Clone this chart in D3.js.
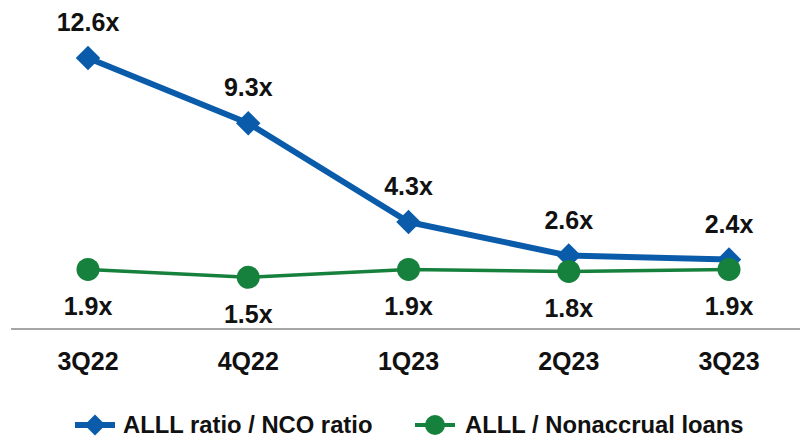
<!DOCTYPE html>
<html>
<head>
<meta charset="utf-8">
<script src="https://cdn.jsdelivr.net/npm/d3@7"></script>
<style>
  html, body { margin: 0; padding: 0; background: #fff; }
  svg { display: block; font-family: "Liberation Sans", Arial, Helvetica, sans-serif; }
</style>
</head>
<body>
<svg id="chart" width="800" height="438"></svg>
<script>
// Quarterly reserve coverage ratios
const quarters = ["3Q22", "4Q22", "1Q23", "2Q23", "3Q23"];
const ncoCoverage = [12.6, 9.3, 4.3, 2.6, 2.4];        // ALLL ratio / NCO ratio
const nonaccrualCoverage = [1.9, 1.5, 1.9, 1.8, 1.9];  // ALLL / Nonaccrual loans
const seriesNames = ["ALLL ratio / NCO ratio", "ALLL / Nonaccrual loans"];

const BLUE = "#0A5CAB";
const GREEN = "#16803D";

const svg = d3.select("#chart");

const x = d3.scalePoint().domain(quarters).range([88, 729]);
const y = d3.scaleLinear().domain([0, 12.6]).range([307, 58]);

// Baseline axis
svg.append("line")
  .attr("x1", 11).attr("x2", 800)
  .attr("y1", 329).attr("y2", 329)
  .attr("stroke", "#a6a6a6").attr("stroke-width", 2);

// Category labels
svg.append("g").selectAll("text")
  .data(quarters)
  .join("text")
  .attr("x", d => x(d))
  .attr("y", 370)
  .attr("text-anchor", "middle")
  .attr("font-size", 25)
  .attr("font-weight", "bold")
  .attr("fill", "#111")
  .text(d => d);

const line = d3.line().x(d => x(d.q)).y(d => y(d.v));

const blueData = quarters.map((q, i) => ({ q, v: ncoCoverage[i] }));
const greenData = quarters.map((q, i) => ({ q, v: nonaccrualCoverage[i] }));

// Nonaccrual coverage line
svg.append("path")
  .datum(greenData)
  .attr("d", line)
  .attr("fill", "none")
  .attr("stroke", GREEN)
  .attr("stroke-width", 3.5);

// NCO coverage line
svg.append("path")
  .datum(blueData)
  .attr("d", line)
  .attr("fill", "none")
  .attr("stroke", BLUE)
  .attr("stroke-width", 6)
  .attr("stroke-linejoin", "round");

const diamond = d3.symbol().type(d3.symbolSquare).size(300);

svg.append("g").selectAll("path")
  .data(blueData)
  .join("path")
  .attr("d", diamond)
  .attr("transform", d => `translate(${x(d.q)},${y(d.v)}) rotate(45)`)
  .attr("fill", BLUE);

svg.append("g").selectAll("circle")
  .data(greenData)
  .join("circle")
  .attr("cx", d => x(d.q))
  .attr("cy", d => y(d.v))
  .attr("r", 11.5)
  .attr("fill", GREEN);

// Value labels
svg.append("g").selectAll("text")
  .data(blueData)
  .join("text")
  .attr("x", d => x(d.q))
  .attr("y", d => y(d.v) - 27)
  .attr("text-anchor", "middle")
  .attr("font-size", 25)
  .attr("font-weight", "bold")
  .attr("fill", "#111")
  .text(d => d.v.toFixed(1) + "x");

svg.append("g").selectAll("text")
  .data(greenData)
  .join("text")
  .attr("x", d => x(d.q))
  .attr("y", d => y(d.v) + 46)
  .attr("text-anchor", "middle")
  .attr("font-size", 25)
  .attr("font-weight", "bold")
  .attr("fill", "#111")
  .text(d => d.v.toFixed(1) + "x");

// Legend
const legendY = 425;
const lg1 = svg.append("g").attr("transform", `translate(75,${legendY})`);
lg1.append("line").attr("x1", 0).attr("x2", 40).attr("y1", 0).attr("y2", 0)
  .attr("stroke", BLUE).attr("stroke-width", 6);
lg1.append("path")
  .attr("d", d3.symbol().type(d3.symbolSquare).size(220))
  .attr("transform", "translate(20,0) rotate(45)")
  .attr("fill", BLUE);
lg1.append("text").attr("x", 48).attr("y", 8)
  .attr("font-size", 23.8).attr("font-weight", "bold").attr("fill", "#111")
  .text(seriesNames[0]);

const lg2 = svg.append("g").attr("transform", `translate(415,${legendY})`);
lg2.append("line").attr("x1", 0).attr("x2", 40).attr("y1", 0).attr("y2", 0)
  .attr("stroke", GREEN).attr("stroke-width", 4);
lg2.append("circle").attr("cx", 20).attr("cy", 0).attr("r", 10).attr("fill", GREEN);
lg2.append("text").attr("x", 50).attr("y", 8)
  .attr("font-size", 23.8).attr("font-weight", "bold").attr("fill", "#111")
  .text(seriesNames[1]);
</script>
</body>
</html>
